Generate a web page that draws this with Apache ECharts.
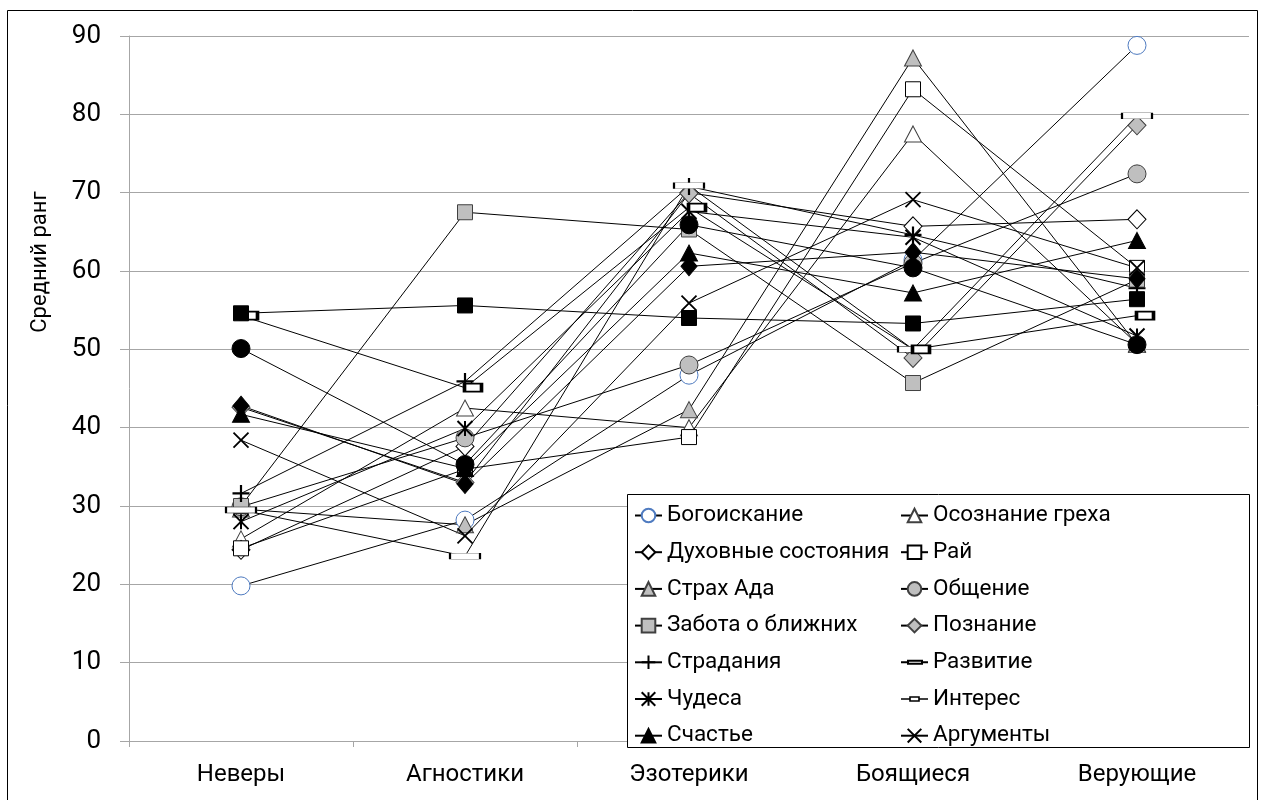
<!DOCTYPE html>
<html>
<head>
<meta charset="utf-8">
<script src="https://cdn.jsdelivr.net/npm/echarts@6/dist/echarts.min.js"></script>
<style>html,body{margin:0;padding:0;background:#fff}#c{width:1261px;height:800px}</style>
</head>
<body>
<div id="c"></div>
<script>
const categories = ['Неверы', 'Агностики', 'Эзотерики', 'Боящиеся', 'Верующие'];
const yTicks = [0, 10, 20, 30, 40, 50, 60, 70, 80, 90];

const bogoiskanie = [19.8, 28.2, 46.7, 61.4, 88.8];
const osoznanie   = [25.8, 42.5, 40.0, 77.5, 50.7];
const dukhovnye   = [24.4, 37.6, 70.0, 65.7, 66.6];
const rai         = [24.6, 34.7, 38.8, 83.2, 60.4];
const strakh      = [29.6, 27.6, 42.3, 87.2, 50.6];
const obshchenie  = [29.9, 38.7, 48.0, 61.0, 72.4];
const zabota      = [30.0, 67.5, 65.3, 45.7, 58.9];
const poznanie    = [42.6, 33.0, 69.9, 48.9, 78.6];
const stradaniya  = [31.6, 45.9, 70.8, 64.6, 57.8];
const razvitie    = [29.5, 23.6, 70.9, 50.0, 79.8];
const chudesa     = [28.0, 39.9, 67.6, 64.3, 51.7];
const interes     = [54.3, 45.1, 68.1, 50.0, 54.3];
const schastie    = [41.7, 34.8, 62.3, 57.2, 63.9];
const argumenty   = [38.4, 26.2, 55.9, 69.1, 60.4];
const extraCircle  = [50.1, 35.3, 65.9, 60.4, 50.6];
const extraSquare  = [54.6, 55.6, 54.0, 53.3, 56.4];
const extraDiamond = [42.8, 32.8, 60.6, 62.4, 59.0];

const FONT = 'Roboto';
const GRAY = '#BFBFBF';
const DARK = '#404040';
const PLUS = 'path://M5,0 L5,10 M0,5 L10,5';
const STAR = 'path://M0,0 L10,10 M10,0 L0,10 M5,0 L5,10';
const CROSS = 'path://M0,0 L10,10 M10,0 L0,10';

function s(name, data, symbol, size, fill, border, bw, extra) {
  return Object.assign({
    name, type: 'line', data, symbol, symbolSize: size,
    lineStyle: { color: '#000', width: 1 },
    itemStyle: { color: fill, borderColor: border, borderWidth: bw, opacity: 1 },
    emphasis: { disabled: true },
    animation: false
  }, extra || {});
}

const series = [
  s('Богоискание', bogoiskanie, 'circle', 18, '#fff', '#4F7BC0', 1),
  s('Осознание греха', osoznanie, 'triangle', [17, 16], '#fff', DARK, 1),
  s('Духовные состояния', dukhovnye, 'diamond', [18, 19], '#fff', '#000', 1),
  s('Рай', rai, 'rect', 15, '#fff', '#000', 1),
  s('Страх Ада', strakh, 'triangle', [17, 16], GRAY, DARK, 1),
  s('Общение', obshchenie, 'circle', 18, GRAY, DARK, 1),
  s('Забота о ближних', zabota, 'rect', 15, GRAY, DARK, 1),
  s('Познание', poznanie, 'diamond', [18, 19], GRAY, DARK, 1),
  s('Страдания', stradaniya, PLUS, 17, '#000', '#000', 2.2),
  s('Развитие', razvitie, 'rect', [30, 6], '#fff', '#000', 1),
  s('Чудеса', chudesa, STAR, 15, '#000', '#000', 2),
  s('Интерес', interes, 'rect', [17, 8], '#fff', '#000', 2.5, { symbolOffset: [8, 0] }),
  s('Счастье', schastie, 'triangle', [17, 16], '#000', '#000', 1),
  s('Аргументы', argumenty, CROSS, 15, '#000', '#000', 1.8),
  s('Ряд15', extraCircle, 'circle', 18, '#000', '#000', 1),
  s('Ряд16', extraSquare, 'rect', 15, '#000', '#000', 1),
  s('Ряд17', extraDiamond, 'diamond', [16, 19], '#000', '#000', 1)
];

const legendCommon = {
  orient: 'vertical', itemWidth: 27, itemHeight: 17, itemGap: 13.7,
  textStyle: { fontFamily: FONT, fontSize: 22.5, color: '#000', lineHeight: 23 },
  padding: 0, z: 20, selectedMode: false
};

const ICON_RAZV = 'path://M0,5 L7,5 M21,5 L27,5 M7,3.5 L21,3.5 L21,6.5 L7,6.5 Z';
const ICON_INT = 'path://M0,5 L9,5 M18,5 L27,5 M9,3 L18,3 L18,7 L9,7 Z';

const chart = echarts.init(document.getElementById('c'), null, { renderer: 'canvas' });
chart.setOption({
  backgroundColor: '#fff',
  animation: false,
  grid: { left: 129, right: 12, top: 36, bottom: 59, containLabel: false },
  xAxis: {
    type: 'category', data: categories, boundaryGap: true,
    axisLine: { show: true, lineStyle: { color: '#A6A6A6', width: 1 } },
    axisTick: { show: true, length: 6, lineStyle: { color: '#A6A6A6' } },
    axisLabel: { fontFamily: FONT, fontSize: 24, color: '#000', margin: 22 },
    splitLine: { show: false }
  },
  yAxis: {
    type: 'value', min: yTicks[0], max: yTicks[yTicks.length - 1], interval: 10,
    axisLine: { show: true, lineStyle: { color: '#A6A6A6', width: 1 } },
    axisTick: { show: true, length: 9, lineStyle: { color: '#A6A6A6' } },
    axisLabel: { fontFamily: FONT, fontSize: 26, color: '#000', margin: 28 },
    splitLine: { show: true, lineStyle: { color: '#A6A6A6', width: 1 } }
  },
  legend: [
    Object.assign({}, legendCommon, { left: 634, top: 504,
      data: ['Богоискание', 'Духовные состояния', 'Страх Ада', 'Забота о ближних', 'Страдания', 'Чудеса', 'Счастье'] }),
    Object.assign({}, legendCommon, { left: 900, top: 504,
      data: ['Осознание греха', 'Рай', 'Общение', 'Познание',
        { name: 'Развитие', icon: ICON_RAZV },
        { name: 'Интерес', icon: ICON_INT, itemStyle: { borderWidth: 1.6 } },
        'Аргументы'] })
  ],
  graphic: [
    { type: 'rect', z: 0, silent: true, shape: { x: 7.5, y: 10.5, width: 1250, height: 820 },
      style: { fill: 'none', stroke: '#000', lineWidth: 1 } },
    { type: 'rect', z: 10, silent: true, shape: { x: 627.5, y: 494.5, width: 622, height: 253 },
      style: { fill: '#fff', stroke: '#000', lineWidth: 1 } },
    { type: 'text', z: 10, silent: true, x: 40, y: 262, rotation: Math.PI / 2,
      style: { text: 'Средний ранг', font: '22px Roboto', fill: '#000', align: 'center', verticalAlign: 'middle' } }
  ],
  series
});
</script>
</body>
</html>
